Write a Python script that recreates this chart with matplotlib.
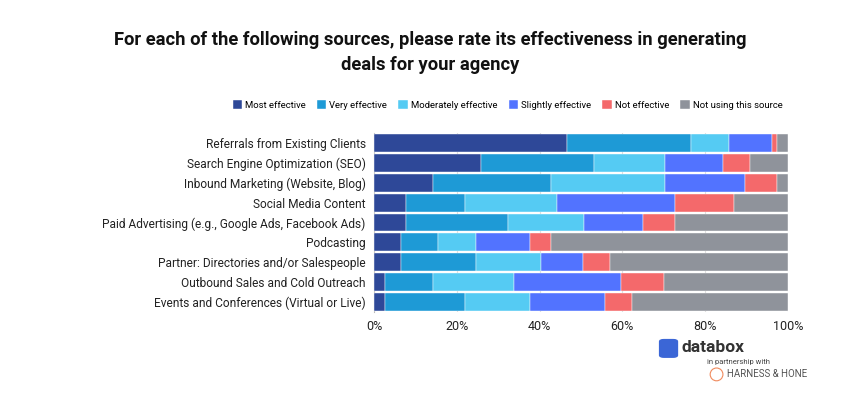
import matplotlib.pyplot as plt
from matplotlib.patches import FancyBboxPatch, Ellipse
import numpy as np

# data (percent of respondents)
sources = [
    "Referrals from Existing Clients",
    "Search Engine Optimization (SEO)",
    "Inbound Marketing (Website, Blog)",
    "Social Media Content",
    "Paid Advertising (e.g., Google Ads, Facebook Ads)",
    "Podcasting",
    "Partner: Directories and/or Salespeople",
    "Outbound Sales and Cold Outreach",
    "Events and Conferences (Virtual or Live)",
]
ratings = ["Most effective", "Very effective", "Moderately effective",
           "Slightly effective", "Not effective", "Not using this source"]

most_effective = [46.7, 25.9, 14.3, 7.8, 7.8, 6.5, 6.5, 2.6, 2.6]
very_effective = [29.9, 27.2, 28.5, 14.2, 24.6, 9.0, 18.1, 11.7, 19.4]
moderately_effective = [9.1, 17.1, 27.4, 22.2, 18.3, 9.2, 15.7, 19.5, 15.8]
slightly_effective = [10.4, 14.2, 19.5, 28.6, 14.3, 13.1, 10.3, 25.9, 18.1]
not_effective = [1.3, 6.5, 7.7, 14.2, 7.8, 5.0, 6.5, 10.4, 6.5]
not_using = [2.6, 9.1, 2.6, 13.0, 27.2, 57.2, 42.9, 29.9, 37.6]

colors = ["#2E4898", "#1E9AD6", "#55CBF3", "#5273FF", "#F4696B", "#8F939B"]

series = [most_effective, very_effective, moderately_effective,
          slightly_effective, not_effective, not_using]

plt.rcParams['font.family'] = ['Roboto', 'DejaVu Sans']

fig = plt.figure(figsize=(8.5, 4), dpi=100)
ax = fig.add_axes([0.44, 0.22, 0.487, 0.4475])

y = np.arange(len(sources))
left = np.zeros(len(sources))
for name, vals, col in zip(ratings, series, colors):
    ax.barh(y, vals, left=left, height=0.9, color=col, label=name,
            edgecolor="white", linewidth=0.3, zorder=3)
    left += np.array(vals)

ax.set_ylim(len(sources) - 0.5, -0.5)
ax.set_xlim(0, 100)
ax.set_yticks(y)
ax.set_yticklabels(sources, fontsize=8.6, color="#222222")
ax.set_xticks([0, 20, 40, 60, 80, 100])
ax.set_xticklabels(["0%", "20%", "40%", "60%", "80%", "100%"], fontsize=9, color="#222222")
ax.tick_params(axis="both", length=0, pad=6)
ax.grid(axis="x", color="#D9D9D9", linewidth=0.8, zorder=0)
for s in ["top", "right", "bottom"]:
    ax.spines[s].set_visible(False)
ax.spines["left"].set_color("#BBBBBB")

fig.text(0.506, 0.869, "For each of the following sources, please rate its effectiveness in generating\ndeals for your agency",
         ha="center", va="center", fontsize=13.2, fontweight="bold", linespacing=1.45, color="#111111")

fig.legend(loc="center", bbox_to_anchor=(0.597, 0.737), ncol=6, fontsize=6.8,
           frameon=False, handlelength=1.0, handleheight=1.0, handletextpad=0.3,
           columnspacing=1.2)

# logo block
icon = FancyBboxPatch((0.777, 0.108), 0.019, 0.042, boxstyle="round,pad=0.001,rounding_size=0.005",
                      transform=fig.transFigure, color="#3B66D6", zorder=5)
fig.patches.append(icon)
fig.text(0.802, 0.13, "databox", fontsize=12.5, fontweight="bold", color="#333333", va="center")
fig.text(0.832, 0.095, "in partnership with", fontsize=5.5, color="#444444", va="center")
fig.patches.append(Ellipse((0.843, 0.064), 0.015, 0.032, transform=fig.transFigure,
                           fill=False, edgecolor="#F08A5D", linewidth=0.8))
fig.text(0.855, 0.064, "HARNESS & HONE", fontsize=7, color="#555555", va="center")

fig.savefig("out.png", dpi=100)
